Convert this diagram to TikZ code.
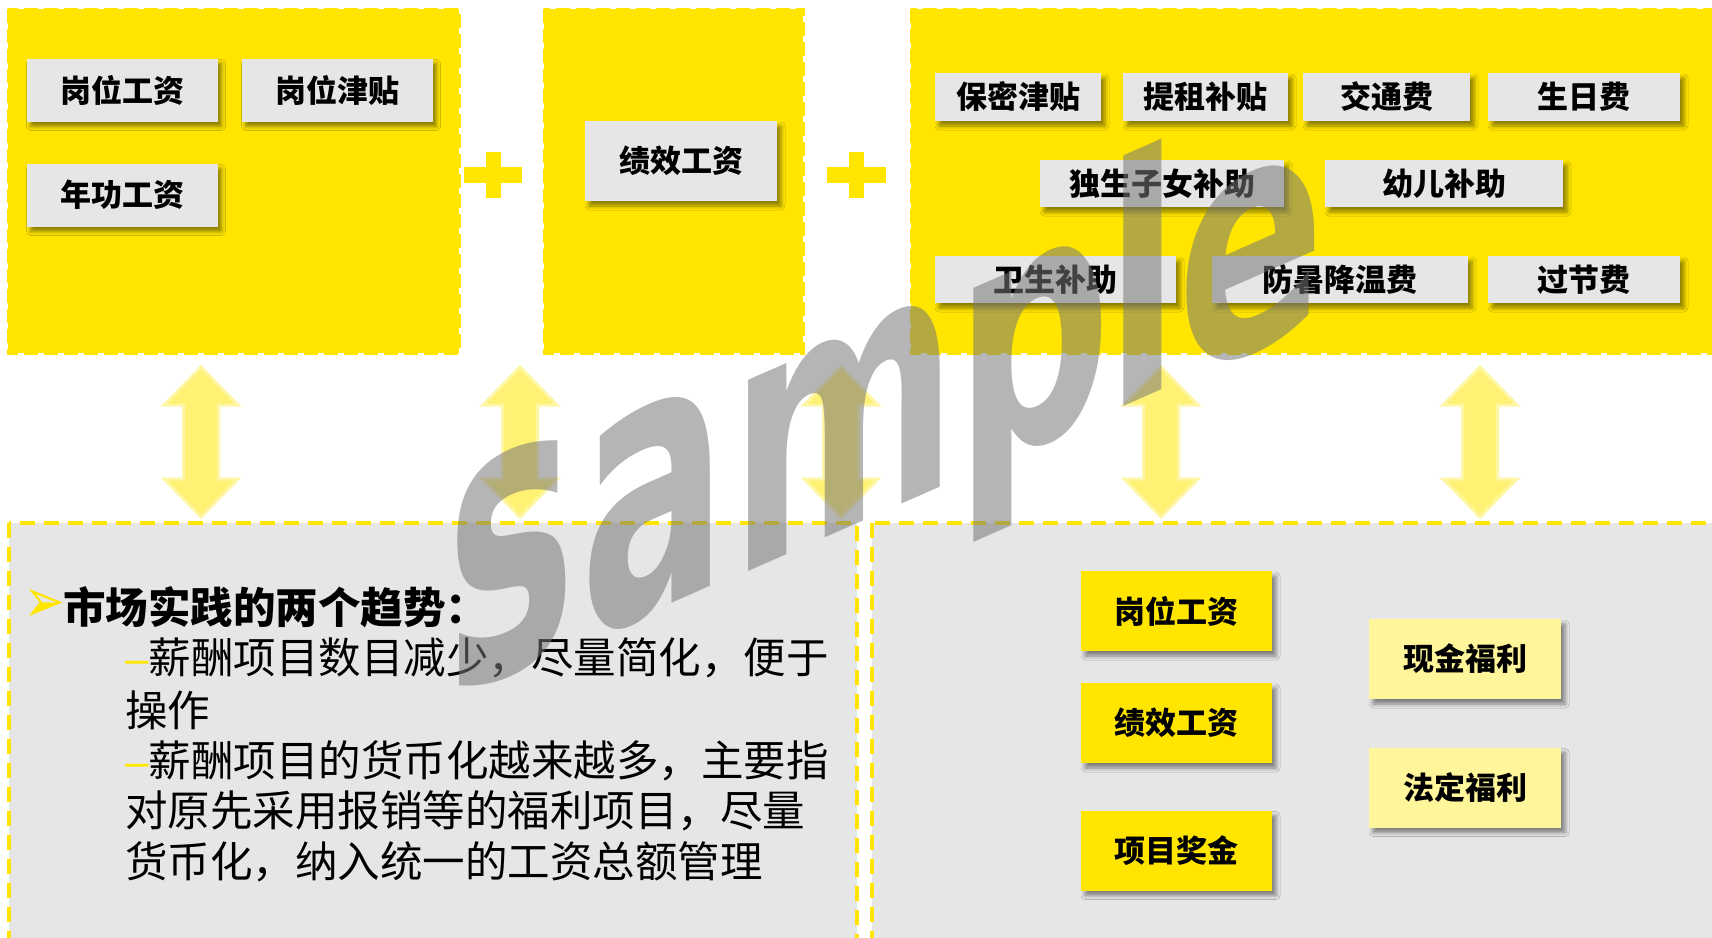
\documentclass[tikz,border=0pt]{standalone}
\usepackage{fontspec}
\setmainfont{Noto Sans CJK SC}
\newfontfamily\cjk{Noto Sans CJK SC}
\newfontfamily\dejavu{DejaVu Sans}
\newfontfamily\libsans{Liberation Sans}
\usetikzlibrary{shadows.blur}
\definecolor{ybright}{HTML}{FFE500}
\definecolor{boxgray}{HTML}{E6E6E6}
\definecolor{paley}{HTML}{FFF59B}
\begin{document}
\begin{tikzpicture}[x=1pt,y=-1pt,
  panel/.style={fill=ybright, draw=ybright, line width=3pt, dash pattern=on 14pt off 6pt},
  lowpanel/.style={fill=boxgray, draw=ybright, line width=3.5pt, dash pattern=on 15pt off 9pt},
  shad/.style={blur shadow={shadow xshift=4pt, shadow yshift=-5pt, shadow blur radius=4pt, shadow opacity=45}},
  tag/.style={shad, fill=boxgray, inner sep=0pt, font=\cjk\bfseries\fontsize{31}{31}\selectfont},
  ytag/.style={shad, fill=ybright, inner sep=0pt, minimum width=191pt, minimum height=80pt, font=\cjk\bfseries\fontsize{31}{31}\selectfont},
  ptag/.style={shad, fill=paley, inner sep=0pt, minimum width=192pt, minimum height=80pt, font=\cjk\bfseries\fontsize{31}{31}\selectfont},
  body/.style={anchor=west, inner sep=0pt, font=\cjk\fontsize{42.5}{42.5}\selectfont},
  dbl/.style={fill=ybright!55, draw=ybright!35, line width=3pt, line join=miter},
  wml/.style={font=\dejavu\bfseries\fontsize{330}{330}\selectfont, text=black!53, opacity=0.55, inner sep=0pt, anchor=base west, yslant=0.44, xscale=0.66}
]
\useasboundingbox (0,0) rectangle (1712,937);

% top panels
\draw[panel] (8,9) rectangle (459,353);
\draw[panel] (544,9) rectangle (803,353);
\draw[panel] (911,9) rectangle (1740,353);

% plus signs
\fill[ybright] (486,152) rectangle (501,198);
\fill[ybright] (464,167) rectangle (522,183);
\fill[ybright] (849,152) rectangle (864,198);
\fill[ybright] (827,167) rectangle (886,183);

% bottom panels
\draw[lowpanel] (9,523) rectangle (857,960);
\draw[lowpanel] (872,523) rectangle (1740,960);

% double arrows
\foreach \c in {201,520,841,1161,1480}{
  \draw[dbl] (\c,367) -- ++(37,38) -- ++(-19.5,0) -- ++(0,74) -- ++(19.5,0) -- (\c,517)
    -- ++(-37,-38) -- ++(19.5,0) -- ++(0,-74) -- ++(-19.5,0) -- cycle;
}

% top-left items
\node[tag, minimum width=191pt, minimum height=63pt] (gwgz) at (122,90) {岗位工资};
\node[tag, minimum width=191pt, minimum height=63pt] (gwjt) at (337,90) {岗位津贴};
\node[tag, minimum width=191pt, minimum height=63pt] (ngg) at (122,195) {年功工资};

% middle item
\node[tag, minimum width=192pt, minimum height=80pt] (jxgz) at (681,161) {绩效工资};

% right items
\node[tag, minimum width=166pt, minimum height=48pt] (bmjt) at (1018,97) {保密津贴};
\node[tag, minimum width=165pt, minimum height=48pt] (tzbt) at (1205.5,97) {提租补贴};
\node[tag, minimum width=167pt, minimum height=48pt] (jtf) at (1386.5,97) {交通费};
\node[tag, minimum width=192pt, minimum height=48pt] (srf) at (1584,97) {生日费};
\node[tag, minimum width=244pt, minimum height=47pt] (dsz) at (1162,183.5) {独生子女补助};
\node[tag, minimum width=238pt, minimum height=47pt] (yebz) at (1444,183.5) {幼儿补助};
\node[tag, minimum width=241pt, minimum height=47pt] (wsbz) at (1055.5,279.5) {卫生补助};
\node[tag, minimum width=256pt, minimum height=47pt] (fsjw) at (1340,279.5) {防暑降温费};
\node[tag, minimum width=192pt, minimum height=47pt] (gjf) at (1584,279.5) {过节费};

% bottom-left text
\node[inner sep=0pt, text=ybright, yscale=1.25, font=\dejavu\fontsize{50}{50}\selectfont] (bul) at (44,606) {➢};
\node[anchor=west, inner sep=0pt, font=\cjk\bfseries\fontsize{42.5}{42.5}\selectfont] (head) at (63,607) {市场实践的两个趋势：};
\node[body] (l1) at (125,658) {{\libsans\textcolor{ybright}{–}}薪酬项目数目减少，尽量简化，便于};
\node[body] (l2) at (125,710) {操作};
\node[body] (l3) at (125,761) {{\libsans\textcolor{ybright}{–}}薪酬项目的货币化越来越多，主要指};
\node[body] (l4) at (125,811) {对原先采用报销等的福利项目，尽量};
\node[body] (l5) at (125,862) {货币化，纳入统一的工资总额管理};

% bottom-right items
\node[ytag] (b1) at (1176.5,611) {岗位工资};
\node[ytag] (b2) at (1176.5,723) {绩效工资};
\node[ytag] (b3) at (1176.5,850.5) {项目奖金};
\node[ptag] (c1) at (1465,659) {现金福利};
\node[ptag] (c2) at (1465,787.5) {法定福利};

% watermark, letter by letter (perspective)
\node[wml, yscale=1.2]  (wm1) at (446,700) {s};
\node[wml, yscale=1.13] (wm2) at (580,644) {a};
\node[wml, yscale=1.06] (wm3) at (730,580) {m};
\node[wml, yscale=1.02] (wm4) at (955,481) {p};
\node[wml, yscale=1.0]  (wm5) at (1105,415) {l};
\node[wml, yscale=0.97] (wm6) at (1177,383.5) {e};
\end{tikzpicture}
\end{document}
